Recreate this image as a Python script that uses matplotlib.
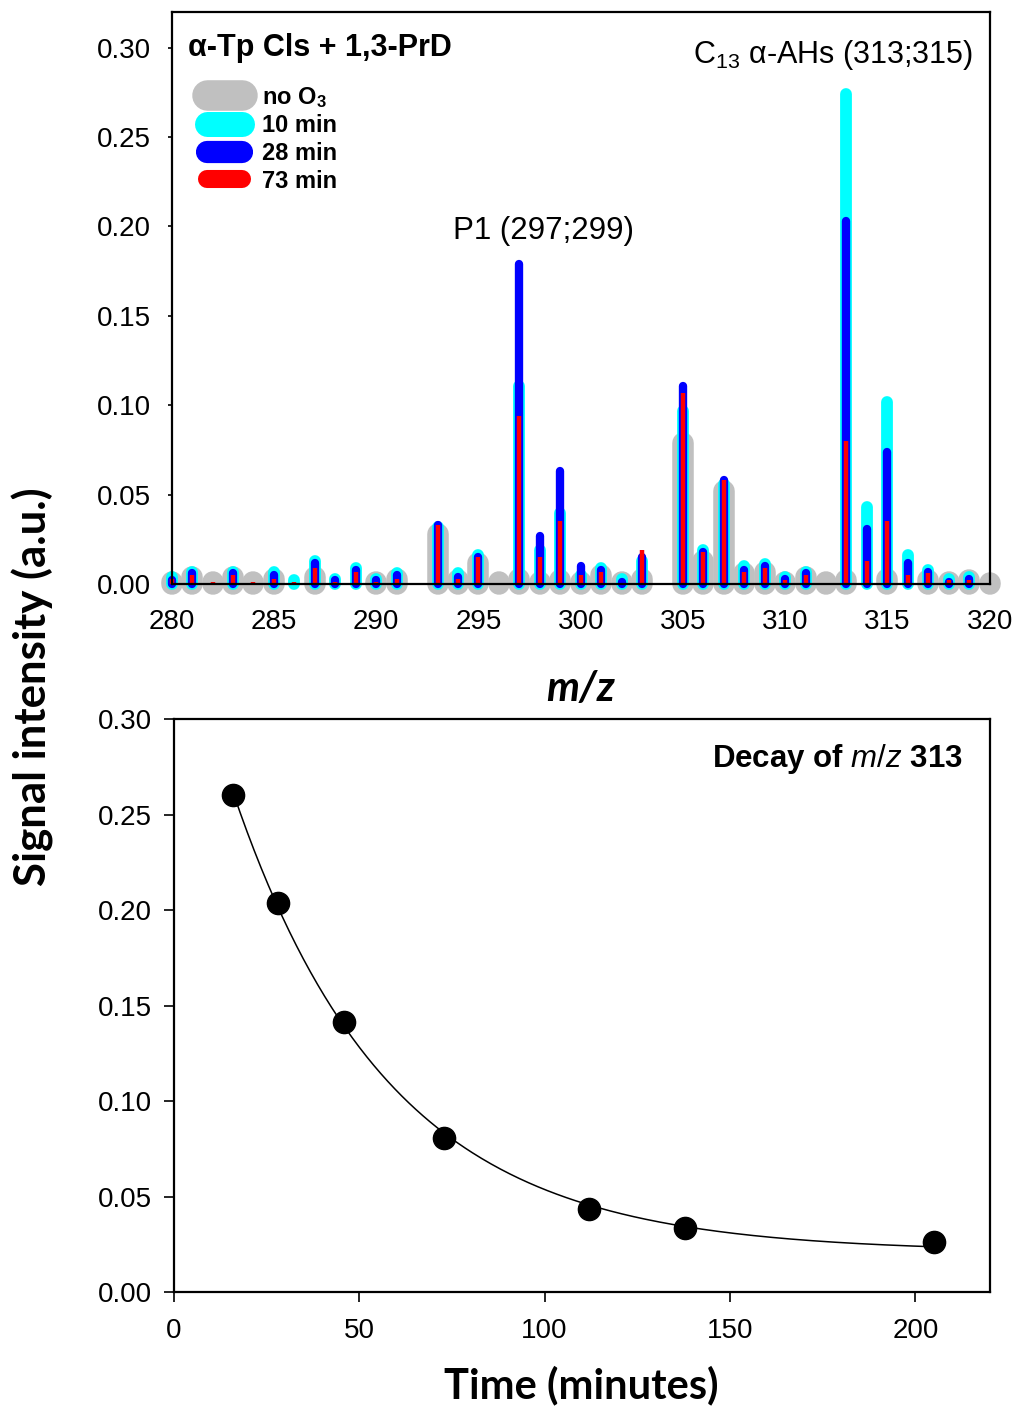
import numpy as np
import matplotlib
matplotlib.use("Agg")
import matplotlib.pyplot as plt
from matplotlib.lines import Line2D

plt.rcParams['font.family'] = ['Liberation Sans', 'DejaVu Sans']
plt.rcParams['mathtext.fontset'] = 'custom'
plt.rcParams['mathtext.rm'] = 'Liberation Sans'
plt.rcParams['mathtext.it'] = 'Liberation Sans:italic'
plt.rcParams['mathtext.bf'] = 'Liberation Sans:bold'

nan = np.nan

# m/z spectrum data
mz = np.arange(280, 321)
no_o3 = [0.001, 0.004, 0.001, 0.004, 0.001, 0.003, nan, 0.004, nan, nan,
         0.001, 0.003, nan, 0.028, 0.002, 0.012, 0.001, 0.003, 0.001, 0.002,
         0.001, 0.005, 0.001, 0.003, nan, 0.079, 0.013, 0.052, 0.006, 0.007,
         0.001, 0.004, 0.001, 0.002, nan, 0.003, nan, 0.002, 0.001, 0.002, 0.0005]
min10 = [0.004, 0.007, nan, 0.007, nan, 0.007, 0.002, 0.013, 0.003, 0.009,
         0.003, 0.006, nan, 0.032, 0.006, 0.016, nan, 0.111, 0.019, 0.040,
         0.005, 0.009, 0.003, 0.013, nan, 0.097, 0.019, 0.056, 0.010, 0.011,
         0.004, 0.007, nan, 0.274, 0.043, 0.102, 0.016, 0.008, 0.003, 0.004, nan]
min28 = [0.002, 0.006, nan, 0.006, nan, 0.005, nan, 0.012, 0.002, 0.008,
         0.002, 0.005, nan, 0.033, 0.004, 0.015, nan, 0.179, 0.027, 0.063,
         0.010, 0.008, 0.001, 0.015, nan, 0.111, 0.018, 0.058, 0.008, 0.010,
         0.003, 0.006, nan, 0.203, 0.031, 0.074, 0.012, 0.007, 0.001, 0.003, nan]
min73 = [0.003, 0.005, 0.001, 0.005, 0.001, 0.003, 0.001, 0.009, 0.001, 0.007,
         0.001, 0.003, nan, 0.033, 0.003, 0.015, nan, 0.094, 0.015, 0.035,
         0.005, 0.007, nan, 0.019, nan, 0.107, 0.018, 0.058, 0.007, 0.009,
         0.002, 0.005, nan, 0.080, 0.013, 0.035, 0.005, 0.006, 0.002, 0.002, nan]

# decay of m/z 313
time_min = [16, 28, 46, 73, 112, 138, 205]
decay = [0.260, 0.2035, 0.1416, 0.0808, 0.0435, 0.0336, 0.0262]

fig = plt.figure(figsize=(10.16, 14.09), dpi=100)
ax1 = fig.add_axes([0.169, 0.5855, 0.805, 0.406])
ax2 = fig.add_axes([0.171, 0.083, 0.803, 0.4067])

series = [(no_o3, '#c0c0c0', 15.5, 'round', r'no O$_\mathbf{3}$'),
          (min10, '#00ffff', 8.5, 'round', '10 min'),
          (min28, '#0000ff', 6, 'round', '28 min'),
          (min73, '#ff0000', 3.2, 'butt', '73 min')]
handles = []
for i, (vals, col, lw, cap, lab) in enumerate(series):
    v = np.array(vals, dtype=float)
    ok = ~np.isnan(v)
    lc = ax1.vlines(mz[ok], 0, v[ok], colors=col, linewidth=lw, zorder=2 + i)
    lc.set_capstyle(cap)
    lc.set_clip_on(False)
    handles.append(Line2D([], [], color=col, lw=[22, 18, 16, 13][i],
                          solid_capstyle='round', label=lab))

ax1.set_xlim(280, 320)
ax1.set_ylim(0, 0.32)
ax1.set_xticks(np.arange(280, 321, 5))
ax1.set_yticks(np.arange(0, 0.31, 0.05))
ax1.yaxis.set_major_formatter(matplotlib.ticker.FormatStrFormatter('%.2f'))
ax1.tick_params(labelsize=20, length=3, width=1.2)
ax1.tick_params(axis='x', pad=15)
ax1.tick_params(axis='y', pad=12)
ax1.set_xlabel('m/z', fontsize=30, fontweight='bold', fontstyle='italic',
               family=['Lato', 'DejaVu Sans'], labelpad=25)
ax1.text(0.02, 0.937, 'α-Tp Cls + 1,3-PrD', transform=ax1.transAxes,
         fontsize=22, fontweight='bold', va='center', ha='left')
ax1.text(0.98, 0.925, 'C$_{13}$ α-AHs (313;315)', transform=ax1.transAxes,
         fontsize=22, va='center', ha='right')
ax1.text(0.455, 0.618, 'P1 (297;299)', transform=ax1.transAxes,
         fontsize=22.5, va='center', ha='center')
ax1.legend(handles=handles, loc='upper left', bbox_to_anchor=(0.043, 0.873),
           frameon=False, prop={'weight': 'bold', 'size': 17},
           handlelength=1.5, handletextpad=0.85, labelspacing=0.2,
           borderaxespad=0, borderpad=0)

# exponential fit y = c + a*exp(-k t)
t = np.array(time_min, float)
y = np.array(decay, float)
best = None
for k in np.linspace(0.005, 0.08, 1500):
    A = np.column_stack([np.ones_like(t), np.exp(-k * t)])
    coef, *_ = np.linalg.lstsq(A, y, rcond=None)
    err = np.sum((A @ coef - y) ** 2)
    if best is None or err < best[0]:
        best = (err, k, coef)
_, k, (c, a) = best
tt = np.linspace(t.min(), t.max(), 300)
ax2.plot(tt, c + a * np.exp(-k * tt), color='black', lw=1.1, zorder=2)
ax2.plot(t, y, 'o', color='black', markersize=16, zorder=3)

ax2.set_xlim(0, 220)
ax2.set_ylim(0, 0.30)
ax2.set_xticks(np.arange(0, 201, 50))
ax2.set_yticks(np.arange(0, 0.31, 0.05))
ax2.yaxis.set_major_formatter(matplotlib.ticker.FormatStrFormatter('%.2f'))
ax2.tick_params(labelsize=20, length=7, width=1.2)
ax2.tick_params(axis='x', pad=12)
ax2.tick_params(axis='y', pad=9)
ax2.set_xlabel('Time (minutes)', fontsize=30, fontweight='bold',
               family=['Lato', 'DejaVu Sans'], labelpad=15)
ax2.text(0.967, 0.93, r'Decay of $\mathbf{\mathit{m/z}}$ 313', transform=ax2.transAxes,
         fontsize=22.5, fontweight='bold', ha='right', va='center')

for ax in (ax1, ax2):
    for s in ax.spines.values():
        s.set_linewidth(1.6)
        s.set_zorder(10)

fig.text(0.032, 0.5124, 'Signal intensity (a.u.)', rotation=90, fontsize=31.5,
         fontweight='bold', family=['Lato', 'DejaVu Sans'], ha='center', va='center')

fig.savefig('out.png', dpi=100)
